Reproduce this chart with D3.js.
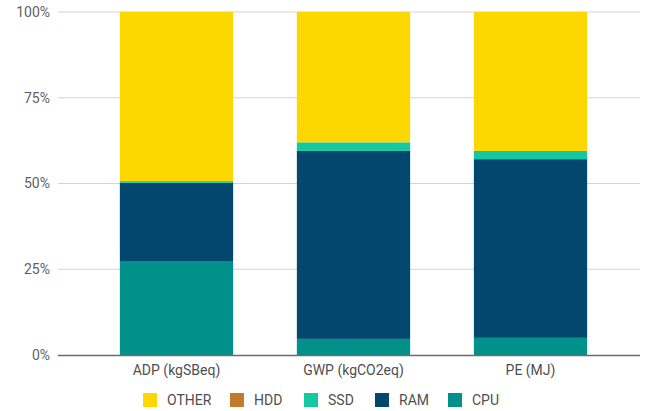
<!DOCTYPE html>
<html>
<head>
<meta charset="utf-8">
<script src="https://cdn.jsdelivr.net/npm/d3@7"></script>
<style>
  html, body { margin: 0; padding: 0; background: #fff; }
  svg { display: block; font-family: Roboto, "Noto Sans", sans-serif; }
</style>
</head>
<body>
<svg id="chart" width="646" height="411"></svg>
<script>
// Impact categories and the share (%) of each component
const categories = ["ADP (kgSBeq)", "GWP (kgCO2eq)", "PE (MJ)"];
const cpu   = [27.4, 4.7, 5.0];
const ram   = [22.8, 54.8, 52.1];
const ssd   = [0.5, 2.5, 2.4];
const hdd   = [0, 0, 0];
const other = [49.3, 38.0, 40.5];
const yTicks = [0, 25, 50, 75, 100];

const seriesKeys = ["CPU", "RAM", "SSD", "HDD", "OTHER"];
const legendKeys = ["OTHER", "HDD", "SSD", "RAM", "CPU"];
const colors = {
  OTHER: "#fdd800",
  HDD: "#c27a2c",
  SSD: "#14c9a1",
  RAM: "#03476f",
  CPU: "#00918a"
};

const rows = categories.map((c, i) => ({
  cat: c, CPU: cpu[i], RAM: ram[i], SSD: ssd[i], HDD: hdd[i], OTHER: other[i]
}));
const stacked = d3.stack().keys(seriesKeys).offset(d3.stackOffsetExpand)(rows);

const svg = d3.select("#chart");
const plotLeft = 58, plotRight = 640, plotTop = 12, plotBottom = 355;

const x = d3.scaleBand().domain(categories).range([88, 619]).paddingInner(0.36).paddingOuter(0.18);
const y = d3.scaleLinear().domain([0, 1]).range([plotBottom, plotTop]);

// gridlines
svg.append("g").selectAll("line").data(yTicks.filter(t => t > 0)).join("line")
  .attr("x1", plotLeft).attr("x2", plotRight)
  .attr("y1", d => y(d / 100)).attr("y2", d => y(d / 100))
  .attr("stroke", "#d3d3d3").attr("stroke-width", 1);

// y tick labels
svg.append("g").selectAll("text").data(yTicks).join("text")
  .attr("x", 50).attr("y", d => y(d / 100)).attr("dy", "0.35em")
  .attr("text-anchor", "end").attr("font-size", 14).attr("fill", "#5f5f5f")
  .text(d => d + "%");

// stacked bars
svg.append("g").selectAll("g").data(stacked).join("g")
  .attr("fill", d => colors[d.key])
  .selectAll("rect").data(d => d).join("rect")
  .attr("x", d => x(d.data.cat))
  .attr("width", x.bandwidth())
  .attr("y", d => y(d[1]))
  .attr("height", d => Math.max(0, y(d[0]) - y(d[1])));

// baseline
svg.append("line")
  .attr("x1", plotLeft).attr("x2", plotRight)
  .attr("y1", plotBottom + 0.5).attr("y2", plotBottom + 0.5)
  .attr("stroke", "#6b6b6b").attr("stroke-width", 1.5);

// category labels
svg.append("g").selectAll("text").data(categories).join("text")
  .attr("x", d => x(d) + x.bandwidth() / 2).attr("y", 375)
  .attr("text-anchor", "middle").attr("font-size", 14).attr("fill", "#4f4f4f")
  .text(d => d);

// legend
const legendX = [143, 230, 304, 375, 448];
const lg = svg.append("g").selectAll("g").data(legendKeys).join("g")
  .attr("transform", (d, i) => `translate(${legendX[i]},393)`);
lg.append("rect").attr("width", 14).attr("height", 14).attr("fill", d => colors[d]);
lg.append("text").attr("x", 24).attr("y", 7).attr("dy", "0.35em")
  .attr("font-size", 14).attr("fill", "#4f4f4f").text(d => d);
</script>
</body>
</html>
